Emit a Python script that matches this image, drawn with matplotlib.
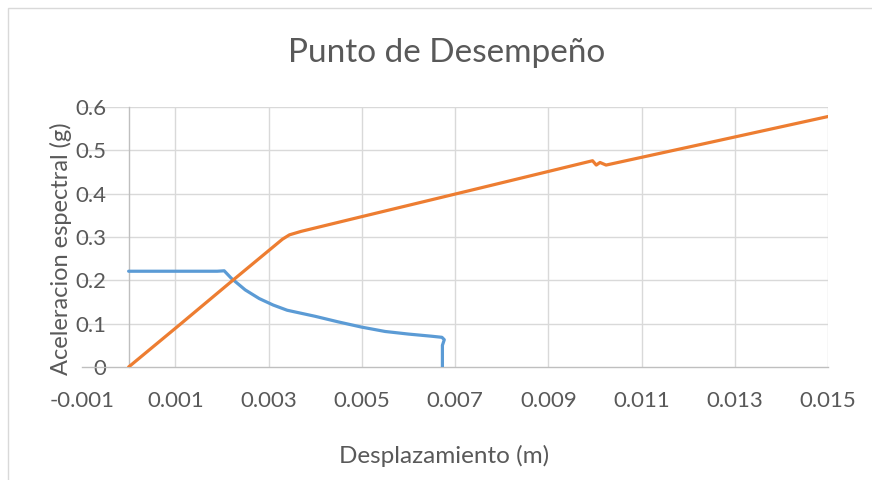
import matplotlib
matplotlib.use("Agg")
import matplotlib.pyplot as plt
from matplotlib.patches import Rectangle

# Capacity curve (blue) and demand spectrum (orange), Sa [g] vs Sd [m]
capacidad_x = [0.0, 0.0019, 0.00205, 0.0022, 0.0025, 0.0028, 0.0031, 0.0034,
               0.0040, 0.0045, 0.0050, 0.0055, 0.0060, 0.0065, 0.00672,
               0.00677, 0.00673, 0.00673]
capacidad_y = [0.221, 0.221, 0.222, 0.205, 0.178, 0.158, 0.143, 0.131,
               0.117, 0.104, 0.092, 0.082, 0.076, 0.071, 0.0685,
               0.063, 0.050, 0.0]

demanda_x = [0.0, 0.0011, 0.0022, 0.0033, 0.00345, 0.0037, 0.0050, 0.0075,
             0.00995, 0.01003, 0.01011, 0.01024, 0.0125, 0.0150]
demanda_y = [0.0, 0.098, 0.197, 0.295, 0.305, 0.313, 0.347, 0.412,
             0.476, 0.466, 0.472, 0.466, 0.519, 0.578]

x_ticks = [-0.001, 0.001, 0.003, 0.005, 0.007, 0.009, 0.011, 0.013, 0.015]
y_ticks = [0, 0.1, 0.2, 0.3, 0.4, 0.5, 0.6]

FONT = "Lato"
GRIS = "#595959"

W, H = 872, 480
fig = plt.figure(figsize=(W / 100, H / 100), dpi=100)
fig.patch.set_facecolor("white")

# chart-area border
fig.patches.append(Rectangle((8 / W, -0.1), 1.2, (H - 8) / H + 0.1,
                             transform=fig.transFigure, fill=False,
                             edgecolor="#d9d9d9", linewidth=1.0))

ax = fig.add_axes([82 / W, (H - 367) / H, 746 / W, 260 / H])
ax.set_xlim(-0.001, 0.015)
ax.set_ylim(0, 0.6)

# vertical gridlines at labelled positions, horizontal at every 0.1
for xv in x_ticks[1:]:
    ax.axvline(xv, color="#d9d9d9", lw=1.0, zorder=0)
for yv in y_ticks[1:]:
    ax.axhline(yv, color="#d9d9d9", lw=1.0, zorder=0)

ax.plot(capacidad_x, capacidad_y, color="#5b9bd5", lw=2.3,
        solid_joinstyle="round", solid_capstyle="round", zorder=3)
ax.plot(demanda_x, demanda_y, color="#ed7d31", lw=2.3,
        solid_joinstyle="round", solid_capstyle="round", zorder=3)

for s in ["top", "right"]:
    ax.spines[s].set_visible(False)
ax.spines["left"].set_position(("data", 0))
ax.spines["left"].set_color("#bfbfbf")
ax.spines["bottom"].set_color("#bfbfbf")
ax.spines["left"].set_linewidth(1.0)
ax.spines["bottom"].set_linewidth(1.0)

ax.set_xticks(x_ticks)
ax.set_xticklabels([f"{v:.3f}" for v in x_ticks])
ax.set_yticks(y_ticks)
ax.set_yticklabels(["0" if v == 0 else f"{v:.1f}" for v in y_ticks])
ax.tick_params(axis="x", length=0, pad=17, labelsize=16, labelcolor=GRIS)
ax.tick_params(axis="y", length=0, pad=16, labelsize=16, labelcolor=GRIS)
for lab in ax.get_xticklabels() + ax.get_yticklabels():
    lab.set_fontfamily(FONT)

fig.text(446.5 / W, 1 - 53 / H, "Punto de Desempeño", ha="center",
         va="center", fontsize=24, color=GRIS, family=FONT)
fig.text(444 / W, 1 - 456 / H, "Desplazamiento (m)", ha="center",
         va="center", fontsize=17.5, color=GRIS, family=FONT)
fig.text(61 / W, 1 - 249 / H, "Aceleracion espectral (g)", ha="center",
         va="center", rotation=90, fontsize=17, color=GRIS, family=FONT)

fig.savefig("out.png", dpi=100, facecolor="white")
